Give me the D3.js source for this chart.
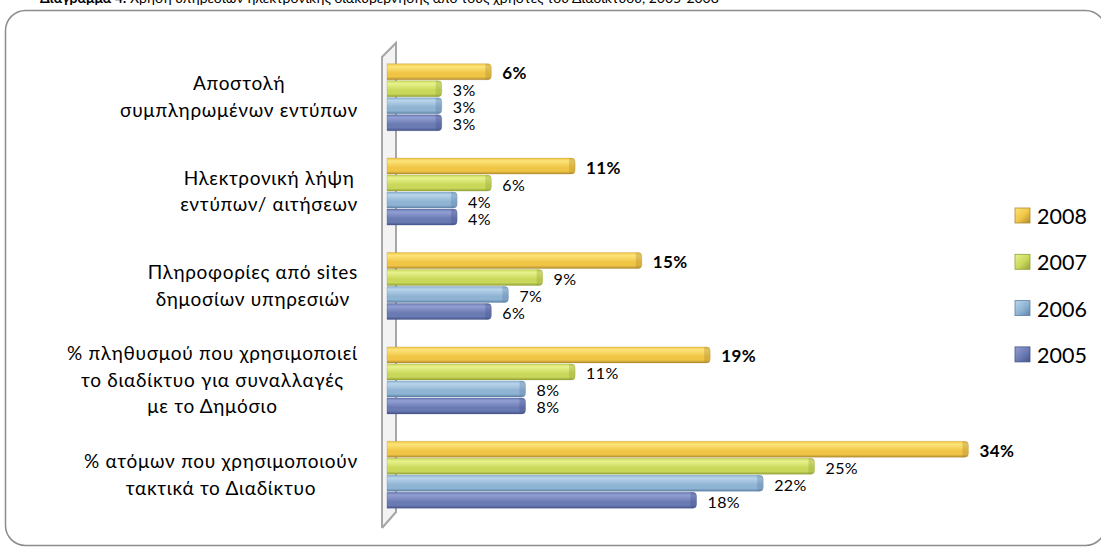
<!DOCTYPE html>
<html>
<head>
<meta charset="utf-8">
<script src="https://cdn.jsdelivr.net/npm/d3@7"></script>
<style>
  html, body { margin: 0; padding: 0; background: #fff; }
  svg { display: block; font-family: Lato, "Open Sans", sans-serif; }
</style>
</head>
<body>
<svg id="chart" width="1101" height="551"></svg>
<script>
// ---- data ----
const categories = [
  ["Αποστολή", "συμπληρωμένων εντύπων"],
  ["Ηλεκτρονική λήψη", "εντύπων/ αιτήσεων"],
  ["Πληροφορίες από sites", "δημοσίων υπηρεσιών"],
  ["% πληθυσμού που χρησιμοποιεί", "το διαδίκτυο για συναλλαγές", "με το Δημόσιο"],
  ["% ατόμων που χρησιμοποιούν", "τακτικά το Διαδίκτυο"]
];
const years = ["2008", "2007", "2006", "2005"];
const values2008 = [6.1, 11.0, 14.9, 18.9, 34.0];
const values2007 = [3.2, 6.1, 9.1, 11.0, 25.0];
const values2006 = [3.2, 4.1, 7.1, 8.1, 22.0];
const values2005 = [3.2, 4.1, 6.1, 8.1, 18.1];
const seriesValues = [values2008, values2007, values2006, values2005];
const titleText = "Διάγραμμα 4: Χρήση υπηρεσιών ηλεκτρονικής διακυβέρνησης από τους χρήστες του Διαδικτύου, 2005-2008";

// ---- styles ----
const palette = {
  "2008": { top: "#FCE47A", mid: "#F0C545", bot: "#B08A30" },
  "2007": { top: "#E8F28C", mid: "#C9D85A", bot: "#93A238" },
  "2006": { top: "#B9D4EA", mid: "#8FB3D3", bot: "#5E82A5" },
  "2005": { top: "#929FD3", mid: "#6A7AB2", bot: "#45548A" }
};

const svg = d3.select("#chart");
const defs = svg.append("defs");
years.forEach(y => {
  const g = defs.append("linearGradient").attr("id", "g" + y)
    .attr("x1", 0).attr("y1", 0).attr("x2", 0).attr("y2", 1);
  const p = palette[y];
  g.append("stop").attr("offset", "0%").attr("stop-color", p.mid);
  g.append("stop").attr("offset", "18%").attr("stop-color", p.top);
  g.append("stop").attr("offset", "60%").attr("stop-color", p.mid);
  g.append("stop").attr("offset", "82%").attr("stop-color", p.mid);
  g.append("stop").attr("offset", "100%").attr("stop-color", p.bot);
  const lg = defs.append("linearGradient").attr("id", "l" + y)
    .attr("x1", 0).attr("y1", 0).attr("x2", 1).attr("y2", 1);
  lg.append("stop").attr("offset", "0%").attr("stop-color", p.top);
  lg.append("stop").attr("offset", "55%").attr("stop-color", p.mid);
  lg.append("stop").attr("offset", "100%").attr("stop-color", p.bot);
});

// title (cut off at the top edge, as in the source image)
svg.append("text").attr("x", 40).attr("y", 3)
  .attr("font-size", 14).attr("fill", "#000")
  .call(t => {
    t.append("tspan").attr("font-weight", "bold").text(titleText.split(":")[0] + ":");
    t.append("tspan").text(titleText.slice(titleText.indexOf(":") + 1));
  });

// frame
svg.append("rect").attr("x", 5.5).attr("y", 10.5).attr("width", 1100).attr("height", 535)
  .attr("rx", 20).attr("fill", "none").attr("stroke", "#8c8c8c").attr("stroke-width", 1.5);

// scales
const x = d3.scaleLinear().domain([0, 35]).range([387, 985.5]);
const y0 = d3.scaleBand().domain(d3.range(categories.length)).range([50, 522])
  .paddingInner(0.28).paddingOuter(0.14);
const y1 = d3.scaleBand().domain(years).range([0, y0.bandwidth()]);

// 3D wall (axis)
const wall = svg.append("g");
const wl = 382, wr = 396, wTop = 57, wBot = 528, dy = 14;
wall.append("path")
  .attr("d", `M${wl},${wTop} L${wr},${wTop - dy} L${wr},${wBot - dy - 2} L${wl},${wBot} Z`)
  .attr("fill", "#f3f3f3").attr("stroke", "none");
wall.append("path")
  .attr("d", `M${wl},${wBot} L${wl},${wTop} L${wr},${wTop - dy} L${wr},${wBot - dy - 2} L${wl},${wBot}`)
  .attr("fill", "none").attr("stroke", "#a6a6a6").attr("stroke-width", 2);

// bars
const barsG = svg.append("g");
function barPath(x0, x1, yt, h) {
  const r = Math.min(4, (x1 - x0) / 2);
  return `M${x0},${yt} L${x1 - r},${yt} Q${x1},${yt} ${x1},${yt + r} L${x1},${yt + h - r} Q${x1},${yt + h} ${x1 - r},${yt + h} L${x0},${yt + h} Z`;
}
categories.forEach((cat, ci) => {
  years.forEach((yr, si) => {
    const v = seriesValues[si][ci];
    const yt = y0(ci) + y1(yr);
    const h = y1.bandwidth();
    barsG.append("path")
      .attr("d", barPath(x(0), x(v), yt + 0.5, h - 1))
      .attr("fill", `url(#g${yr})`)
      .attr("stroke", palette[yr].bot).attr("stroke-opacity", 0.35).attr("stroke-width", 0.8);
    barsG.append("path")
      .attr("d", barPath(x(v) - 6, x(v), yt + 0.5, h - 1))
      .attr("fill", palette[yr].bot).attr("fill-opacity", 0.35);
    svg.append("text")
      .attr("x", x(v) + 11).attr("y", yt + h / 2 + 1)
      .attr("dominant-baseline", "central")
      .attr("font-size", yr === "2008" ? 17 : 16)
      .attr("letter-spacing", 0.4)
      .attr("font-weight", yr === "2008" ? "bold" : "normal")
      .attr("fill", "#000")
      .text(Math.round(v) + "%");
  });
});

// category labels (block right-aligned, lines centered)
const labelRight = 358, lineH = 26.5;
categories.forEach((lines, ci) => {
  const g = svg.append("g");
  const texts = lines.map(l => g.append("text").attr("font-size", 19).attr("letter-spacing", 0.7)
    .attr("fill", "#000")
    .attr("text-anchor", "middle").attr("dominant-baseline", "central").text(l));
  const maxW = d3.max(texts, t => t.node().getBBox().width);
  const cx = labelRight - maxW / 2;
  const cy = y0(ci) + y0.bandwidth() / 2 - 1;
  texts.forEach((t, i) => t.attr("x", cx).attr("y", cy + (i - (lines.length - 1) / 2) * lineH));
});

// legend
const legend = svg.append("g");
years.forEach((yr, i) => {
  const cy = 215 + i * 46.3;
  legend.append("rect").attr("x", 1015).attr("y", cy - 7).attr("width", 15).attr("height", 15)
    .attr("fill", `url(#l${yr})`).attr("stroke", palette[yr].bot).attr("stroke-width", 0.8);
  legend.append("text").attr("x", 1037).attr("y", cy + 1).attr("dominant-baseline", "central")
    .attr("font-size", 21.5).attr("fill", "#000").text(yr);
});
</script>
</body>
</html>
